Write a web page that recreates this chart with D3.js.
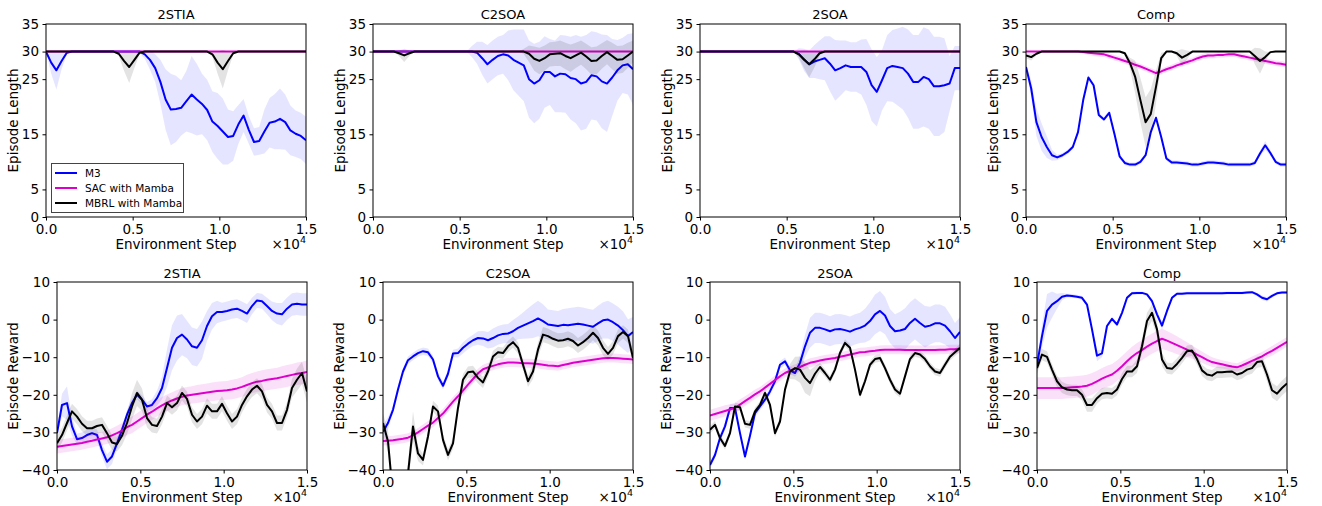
<!DOCTYPE html>
<html>
<head>
<meta charset="utf-8">
<script src="https://cdn.jsdelivr.net/npm/d3@7"></script>
<style>
  body { margin: 0; background: #fff; }
  svg { display: block; font-family: "DejaVu Sans", sans-serif; }
</style>
</head>
<body>
<div id="chart"></div>
<script>
// environment steps, in units of 1e4
var steps = [0.00,0.03,0.06,0.09,0.12,0.15,0.18,0.21,0.24,0.27,
             0.30,0.33,0.36,0.39,0.42,0.45,0.48,0.51,0.54,0.57,
             0.60,0.63,0.66,0.69,0.72,0.75,0.78,0.81,0.84,0.87,
             0.90,0.93,0.96,0.99,1.02,1.05,1.08,1.11,1.14,1.17,
             1.20,1.23,1.26,1.29,1.32,1.35,1.38,1.41,1.44,1.47,
             1.50];

var envNames = ["2STIA", "C2SOA", "2SOA", "Comp"];
var seriesNames = ["M3", "SAC with Mamba", "MBRL with Mamba"];
var xTicks = [0, 0.5, 1.0, 1.5];
var lenTicks = [0, 5, 15, 25, 30, 35];
var rewTicks = [-40, -30, -20, -10, 0, 10];

// ---------- Episode Length ----------
var len_2stia_m3 = [30,28,26.6,28.3,29.8,30,30,30,30,30,
  30,30,30,30,30,30,30,30,30,29.5,
  28.5,27,24.5,21.3,19.5,19.6,19.8,21,22.2,21.3,
  20.5,19.4,17.3,16.5,15.5,14.5,14.7,16.8,18.4,15.8,
  13.6,13.8,15.5,17.1,17.3,17.8,17.2,15.7,15.1,14.7,
  13.9];
var len_2stia_m3_sd = [0,2,3.5,1.5,0.3,0,0,0,0,0,
  0,0,0,0,0,0,0,0,0.3,0.8,
  1.8,2.5,4,5.5,6.5,6,5,5.5,7,6.5,
  5.5,5.5,5.5,6,6,5,4.5,3.5,3,2.5,
  2.5,2.5,4,4.5,5,5.5,5,4.5,4.2,4.2,
  4.3];
var len_2stia_sac = [30,30,30,30,30,30,30,30,30,30,
  30,30,30,30,30,30,30,30,30,30,
  30,30,30,30,30,30,30,30,30,30,
  30,30,30,30,30,30,30,30,30,30,
  30,30,30,30,30,30,30,30,30,30,
  30];
var len_2stia_sac_sd = [0,0,0,0,0,0,0,0,0,0,
  0,0,0,0,0,0,0,0,0,0,
  0,0,0,0,0,0,0,0,0,0,
  0,0,0,0,0,0,0,0,0,0,
  0,0,0,0,0,0,0,0,0,0,
  0];
var len_2stia_mbrl = [30,30,30,30,30,30,30,30,30,30,
  30,30,30,30,29.6,28.3,27.2,28.5,29.8,30,
  30,30,30,30,30,30,30,30,30,30,
  30,30,29.5,28,26.8,28.3,29.7,30,30,30,
  30,30,30,30,30,30,30,30,30,30,
  30];
var len_2stia_mbrl_sd = [0,0,0,0,0,0,0,0,0,0,
  0,0,0,0,0.4,1.8,2.9,1.5,0.2,0,
  0,0,0,0,0,0,0,0,0,0,
  0,0,0.5,2,3.5,1.7,0.3,0,0,0,
  0,0,0,0,0,0,0,0,0,0,
  0];

var len_c2soa_m3 = [30,30,30,30,30,30,30,30,30,30,
  30,30,30,30,30,30,30,30,30,30,
  29.8,28.8,27.7,28.5,29.2,29.5,29.3,28.5,28,27.5,
  25,24.2,24.8,26.3,26.3,25.5,26,25.9,25.2,25,
  24.2,24.5,25.7,25.5,24.6,24.2,25.3,26.6,27.5,27.7,
  26.8];
var len_c2soa_m3_sd = [0,0,0,0,0,0,0,0,0,0,
  0,0,0,0,0,0,0,0,0,1,
  2,3,3.5,3.5,3.5,3.5,4.5,5.5,6,6.5,
  7,7.2,7,6.5,6,6.5,7,7,7.5,8,
  8.5,8.5,8,8,8.5,8.8,7,5.5,5,5.5,
  6.5];
var len_c2soa_sac = [30,30,30,30,30,30,30,30,30,30,
  30,30,30,30,30,30,30,30,30,30,
  30,30,30,30,30,30,30,30,30,30,
  30,30,30,30,30,30,30,30,30,30,
  30,30,30,30,30,30,30,30,30,30,
  30];
var len_c2soa_sac_sd = [0,0,0,0,0,0,0,0,0,0,
  0,0,0,0,0,0,0,0,0,0,
  0,0,0,0,0,0,0,0,0,0,
  0,0,0,0,0,0,0,0,0,0,
  0,0,0,0,0,0,0,0,0,0,
  0];
var len_c2soa_mbrl = [30,30,30,30,30,29.7,29.3,29.7,30,30,
  30,30,30,30,30,30,30,30,30,30,
  30,30,30,30,30,30,30,30,30,30,
  29.6,28.7,28.3,28.8,29.5,29.6,29.7,29.2,28.8,29.3,
  29.8,29.1,28.3,28.4,29.2,29.9,29.2,28.5,28.6,29.3,
  30];
var len_c2soa_mbrl_sd = [0,0,0,0,0,0.5,1.2,0.5,0,0,
  0,0,0,0,0,0,0,0,0,0,
  0,0,0,0,0,0,0,0,0,0.5,
  1.5,2.2,2.4,2.3,2.2,2.2,2.3,2.4,2.5,2.3,
  2.2,2.3,2.5,2.5,2.3,2.2,2.4,2.5,2.5,2.3,
  2];

var len_2soa_m3 = [30,30,30,30,30,30,30,30,30,30,
  30,30,30,30,30,30,30,30,30,29.6,
  28.5,27.7,28.2,28.5,28.8,27.8,26.6,27,27.5,27.2,
  27.2,27.2,26.3,23.9,22.7,24.8,27,27.4,27.2,27,
  26,24.5,24.5,25.4,25,23.7,23.7,23.9,24.2,27,
  27];
var len_2soa_m3_sd = [0,0,0,0,0,0,0,0,0,0,
  0,0,0,0,0,0,0,0,0,1,
  2,2.5,3,3.5,4,5,5.5,5,4.5,4.5,
  4.5,5,6,6.5,6.3,5.5,6,6.5,7,7.5,
  8,8.5,8.5,9,9,9,9,8.5,5,4,
  4];
var len_2soa_sac = [30,30,30,30,30,30,30,30,30,30,
  30,30,30,30,30,30,30,30,30,30,
  30,30,30,30,30,30,30,30,30,30,
  30,30,30,30,30,30,30,30,30,30,
  30,30,30,30,30,30,30,30,30,30,
  30];
var len_2soa_sac_sd = [0,0,0,0,0,0,0,0,0,0,
  0,0,0,0,0,0,0,0,0,0,
  0,0,0,0,0,0,0,0,0,0,
  0,0,0,0,0,0,0,0,0,0,
  0,0,0,0,0,0,0,0,0,0,
  0];
var len_2soa_mbrl = [30,30,30,30,30,30,30,30,30,30,
  30,30,30,30,30,30,30,30,30,29.5,
  28.6,27.7,28.6,29.7,30,30,30,30,30,30,
  30,30,30,30,30,30,30,30,30,30,
  30,30,30,30,30,30,30,30,30,30,
  30];
var len_2soa_mbrl_sd = [0,0,0,0,0,0,0,0,0,0,
  0,0,0,0,0,0,0,0,0,0.6,
  1.6,2.4,1.5,0.4,0,0,0,0,0,0,
  0,0,0,0,0,0,0,0,0,0,
  0,0,0,0,0,0,0,0,0,0,
  0];

var len_comp_m3 = [27.2,23.3,17.2,14.5,12.7,11.2,10.8,11.2,11.8,12.7,
  15.4,21.2,25.3,23.9,18.5,17.7,18.9,15.1,11,9.8,
  9.5,9.5,10,11.2,15.4,18,14.5,10.6,9.9,9.9,
  9.8,9.7,9.5,9.5,9.7,9.9,9.9,9.8,9.7,9.5,
  9.5,9.5,9.5,9.5,9.8,11.5,13,11.6,10,9.5,
  9.5];
var len_comp_m3_sd = [0.5,1.5,2.5,2.5,2,1,0.5,0.4,0.4,0.4,
  0.4,0.4,0.4,0.4,0.4,0.4,0.4,0.4,0.4,0.4,
  0.4,0.4,0.4,0.4,0.4,0.4,0.4,0.4,0.4,0.4,
  0.4,0.4,0.4,0.4,0.4,0.4,0.4,0.4,0.4,0.4,
  0.4,0.4,0.4,0.4,0.4,0.5,0.8,0.5,0.4,0.4,
  0.4];
var len_comp_sac = [30,30,30,30,30,30,30,30,30,30,
  30,29.9,29.8,29.7,29.6,29.5,29.2,28.9,28.6,28.3,
  28,27.6,27.3,26.9,26.5,26.1,26.4,26.8,27.1,27.5,
  27.8,28.1,28.4,28.8,29.1,29.3,29.3,29.4,29.4,29.5,
  29.5,29.3,29.1,28.9,28.7,28.5,28.3,28.1,27.9,27.8,
  27.6];
var len_comp_sac_sd = [0,0,0,0,0,0,0,0,0,0,
  0.2,0.3,0.4,0.5,0.5,0.5,0.5,0.5,0.5,0.5,
  0.5,0.5,0.5,0.5,0.5,0.5,0.5,0.5,0.5,0.5,
  0.5,0.5,0.5,0.5,0.5,0.5,0.5,0.5,0.5,0.5,
  0.5,0.5,0.5,0.5,0.5,0.5,0.5,0.5,0.5,0.5,
  0.5];
var len_comp_mbrl = [29.3,29,29.6,30,30,30,30,30,30,30,
  30,30,30,30,30,30,30,30,30,29.7,
  27.9,25.4,21.2,17.2,18.7,23.6,28.8,30,30,29.7,
  28.9,29.4,30,30,30,30,30,30,30,30,
  30,30,30,30,29.2,28.3,29,29.9,30,30,
  30];
var len_comp_mbrl_sd = [0.5,0.6,0.3,0,0,0,0,0,0,0,
  0,0,0,0,0,0,0,0,0,0.3,
  1,3,4,4.5,4.5,3,1,0,0,0.5,
  1.5,0.8,0,0,0,0,0,0,0,0,
  0,0,0,0,1.5,2.3,1,0,0,0,
  0];

// ---------- Episode Reward ----------
var rew_2stia_m3 = [-30.2,-22.7,-22.2,-28.4,-31.8,-31.5,-30.7,-30.2,-30.7,-34.7,
  -37.8,-36.4,-32.9,-29.3,-25.3,-22.2,-20,-21.3,-23.1,-22.7,
  -20.9,-18.2,-12.9,-7.5,-4.9,-4,-5.3,-7.1,-7.5,-5.5,
  -1.7,0.9,2,2,2.3,2.7,2.9,2.3,1.6,3.6,
  5.1,4.9,3.6,2.3,1.6,1.4,2.9,4,4.2,4,
  4];
var rew_2stia_m3_sd = [1,3,4.5,2.5,1.5,1.5,1.5,1.5,1.5,1.8,
  2,2,1.5,1.2,1.2,1.2,1.2,1.2,1.2,1.5,
  2,3,5,6,6,5.5,5,5,5,5,
  4,3.5,3,2.5,2.5,2.5,2.5,2.5,2.5,2.2,
  2,2,2.2,2.5,2.8,3,3,3,3,3,
  3];
var rew_2stia_sac = [-33.8,-33.6,-33.4,-33.2,-33.0,-32.8,-32.5,-32.2,-31.9,-31.6,
  -31.3,-30.8,-30.2,-29.5,-28.6,-28,-27.1,-26.2,-25.3,-24.5,
  -23.6,-22.8,-22.1,-21.5,-21,-20.5,-20.2,-20,-19.8,-19.6,
  -19.4,-19.2,-19.0,-18.9,-18.8,-18.6,-18.3,-17.9,-17.4,-16.9,
  -16.5,-16.3,-16.0,-15.8,-15.6,-15.3,-15.0,-14.7,-14.4,-14.2,
  -13.9];
var rew_2stia_sac_sd = [1.8,1.8,1.8,1.8,1.8,1.8,1.8,1.8,1.8,1.8,
  1.8,1.9,2,2,2.1,2.2,2.2,2.2,2.2,2.2,
  2.2,2.2,2.2,2.2,2.3,2.3,2.3,2.3,2.4,2.4,
  2.4,2.5,2.5,2.5,2.5,2.6,2.6,2.6,2.7,2.7,
  2.7,2.8,2.8,2.8,2.8,2.9,2.9,2.9,3,3,
  3];
var rew_2stia_mbrl = [-32.9,-30.7,-27.5,-24.4,-25.8,-27.7,-28.9,-28.9,-28.3,-28,
  -30.2,-32.7,-33.1,-30.9,-27.5,-23.1,-19.5,-21.3,-26.2,-28,
  -28.3,-25.8,-22.2,-23.3,-22.2,-19.5,-21.1,-25.3,-27.1,-25.8,
  -22.9,-24.4,-24.4,-22.4,-24.9,-27.1,-25.8,-22.7,-20.4,-18.6,
  -17.6,-19.1,-22.7,-24.4,-27.5,-27.5,-24,-18.2,-16,-14.2,
  -19.1];
var rew_2stia_mbrl_sd = [2,2,2,2,2,2,2,2,2,2,
  2,2,2,2.5,3,3.5,3.5,3,2.5,2,
  2,2,2,2,2,2,2,2,2,2,
  2,2,2,2,2,2,2,2,2,2,
  2,2,2,2,2,2,2,2.5,3,3,
  3];

var rew_c2soa_m3 = [-29.8,-27.5,-24,-18.6,-13.8,-10.8,-9.8,-8.9,-8.4,-8.7,
  -10.6,-15.1,-17.6,-14.4,-9,-8.9,-7.5,-6.4,-5.5,-4.9,
  -5,-5.5,-4.9,-4.2,-3.8,-3.7,-3.1,-2.2,-1.6,-1,
  -0.4,0.3,-0.4,-1.3,-1.5,-1.7,-1.4,-1.5,-1.3,-1.1,
  -1.3,-1.6,-1.9,-1,-0.2,0,-0.7,-1.6,-2.8,-4.4,
  -3.3];
var rew_c2soa_m3_sd = [2,1.5,1,1,1,1,1,1,1,1,
  1,1,1,1,1,1.2,1.5,1.5,1.5,1.8,
  2,2.2,2.5,2.5,2.5,2.5,3,3,3.5,4,
  4.5,4.7,4.5,4,4,4,4.2,4.5,4.5,4.5,
  4.5,4.5,4.5,4.7,4.8,5,5,5,5,4.5,
  4];
var rew_c2soa_sac = [-32.3,-32.2,-32.1,-31.9,-31.7,-31.4,-30.8,-30.0,-29.1,-28.2,
  -27.4,-26.2,-25.0,-23.4,-21.8,-20.4,-18.9,-17.3,-15.8,-14.3,
  -13.2,-12.7,-12.3,-11.9,-11.6,-11.4,-11.4,-11.5,-11.6,-11.6,
  -11.7,-11.8,-12.0,-12.2,-12.3,-12.4,-12.1,-11.8,-11.5,-11.3,
  -11.1,-10.9,-10.7,-10.5,-10.3,-10.2,-10.2,-10.3,-10.4,-10.5,
  -10.6];
var rew_c2soa_sac_sd = [1.2,1.2,1.2,1.2,1.2,1.2,1.2,1.2,1.2,1.2,
  1.2,1.2,1.2,1.2,1.2,1.2,1.2,1.2,1.2,1.2,
  1.2,1.2,1.2,1.2,1.2,1.2,1.2,1.2,1.2,1.2,
  1.2,1.2,1.2,1.2,1.2,1.2,1.2,1.2,1.2,1.2,
  1.2,1.2,1.2,1.2,1.2,1.2,1.2,1.2,1.2,1.2,
  1.2];
var rew_c2soa_mbrl = [-27.5,-32.4,-47,-52,-50,-41,-28.4,-35.6,-37.3,-31.1,
  -23.1,-24.4,-32,-36,-32.9,-23.5,-16,-14,-13.8,-15.5,
  -16.7,-13.8,-9.8,-8.7,-8.9,-7.1,-6,-7.5,-12,-16.4,
  -13.8,-8,-4,-4.4,-5.1,-5.6,-5.5,-5.1,-5.7,-6.9,
  -6,-4.9,-3.5,-4.9,-7.5,-9.1,-7.5,-4.4,-3.3,-4.4,
  -10.2];
var rew_c2soa_mbrl_sd = [2.5,3,3,3,3,3,4,2,1.5,1.5,
  1.5,1.5,1.5,1.5,1.5,1.5,1.5,1.5,1.5,1.5,
  1.5,1.5,1.5,1.5,1.5,1.5,1.5,1.5,1.5,1.5,
  2,2,2,2,2,2,2,2,2,2,
  2,2,2,2,2,1.8,1.8,1.8,1.8,1.8,
  1.8];

var rew_2soa_m3 = [-38.7,-36,-31.5,-28.4,-23.5,-23.5,-30.2,-36.4,-30.9,-24.9,
  -23.1,-21.3,-19.1,-16.4,-12,-11.1,-13.5,-14.2,-11.5,-7.1,
  -3.5,-2.2,-2.2,-2.6,-3.1,-2.6,-2.5,-2.8,-3.2,-2.6,
  -2.2,-1.6,-0.4,1.4,2.3,1.1,-1.7,-3.1,-2.9,-2.5,
  -0.9,0.2,-0.9,-1.9,-1.6,-1,-1,-1.6,-3.1,-4.9,
  -3.3];
var rew_2soa_m3_sd = [1,1,1,1,1,1,1,1,1,1,
  1,1,1,1,1,1,1,1,2,3,
  4,4,4,4,4,4,4,4,4,4,
  4,4.5,5,5.3,5.3,5,4.5,4.5,5,5.5,
  5.5,5.5,5.5,5.5,5,5,5,5,4.5,4,
  4];
var rew_2soa_sac = [-25.5,-25.1,-24.7,-24.3,-23.9,-23.5,-22.6,-21.7,-20.8,-19.9,
  -19.1,-18.1,-17.1,-16.1,-15.1,-14.2,-13.6,-13.1,-12.6,-12.0,
  -11.5,-11.2,-10.9,-10.6,-10.4,-10.2,-9.9,-9.6,-9.3,-9.0,
  -8.7,-8.6,-8.4,-8.3,-8.1,-8.0,-8.0,-8.0,-8.0,-8.1,
  -8.1,-8.1,-8.1,-8.1,-8.1,-8.1,-8.0,-8.0,-7.9,-7.9,
  -7.8];
var rew_2soa_sac_sd = [1.5,1.5,1.5,1.5,1.4,1.4,1.4,1.3,1.3,1.3,
  1.2,1.2,1.2,1.2,1.2,1.2,1.2,1.2,1.2,1.2,
  1.2,1.2,1.2,1.2,1.2,1.2,1.2,1.2,1.2,1.2,
  1.2,1.2,1.2,1.2,1.2,1.2,1.2,1.2,1.2,1.2,
  1.2,1.2,1.2,1.2,1.2,1.2,1.2,1.2,1.2,1.2,
  1.2];
var rew_2soa_mbrl = [-29.3,-28,-31.5,-33.6,-30.2,-23.1,-23.3,-27.7,-28,-24.4,
  -22.7,-19.5,-22.7,-30.2,-27.1,-18.6,-13.8,-12.9,-13.3,-15.5,
  -16.9,-14.4,-12.6,-14.2,-16,-13.3,-8.9,-6.2,-7.5,-13.3,
  -20,-16.4,-12,-10.5,-10.2,-12.9,-16,-18.6,-19.7,-15.1,
  -10.5,-8.9,-9.3,-10.5,-12.4,-13.8,-14.2,-12,-9.9,-8.7,
  -7.5];
var rew_2soa_mbrl_sd = [1,1,1,1,1,1,1,1,1,1,
  1,1,1,1,1,1,2,3,3.5,4,
  3.5,2,1.2,1,1,1,1,1,1,1,
  1,1,1,1,1,1,1,1,1,1,
  1,1,1,1,1,1,1,1,1,1,
  1];

var rew_comp_m3 = [-12,-4.4,2.3,4,4.9,6.1,6.4,6.3,6.1,5.8,
  4,-2.6,-9.6,-9,-1.7,0.2,-1.3,1.8,5.8,7,
  7.1,7.1,6.7,4.9,1.4,-1.6,2.3,5.8,6.9,6.9,
  7,7,7,7,7,7,7,7,7.1,7.1,
  7.1,7.1,7.2,7.3,6.7,5.8,5.4,6.3,7,7.2,
  7.2];
var rew_comp_m3_sd = [1,3,4.5,3.5,2,1,0.5,0.5,0.5,0.5,
  0.5,0.8,1.5,1,0.5,0.5,0.5,0.5,0.5,0.4,
  0.4,0.4,0.4,0.5,0.8,1,0.8,0.4,0.4,0.4,
  0.4,0.4,0.4,0.4,0.4,0.4,0.4,0.4,0.4,0.4,
  0.4,0.4,0.4,0.4,0.5,0.6,0.6,0.5,0.4,0.4,
  0.4];
var rew_comp_sac = [-18.2,-18.2,-18.2,-18.2,-18.2,-18.2,-18.1,-18.0,-17.9,-17.8,
  -17.6,-17.1,-16.4,-15.7,-15.1,-14.6,-13.6,-12.4,-11.1,-9.9,
  -8.9,-8.1,-7.2,-6.4,-5.7,-5.1,-5.6,-6.2,-6.8,-7.4,
  -8.0,-8.6,-9.3,-10.0,-10.7,-11.3,-11.6,-11.9,-12.2,-12.5,
  -12.7,-12.2,-11.6,-11.0,-10.4,-9.8,-9.0,-8.3,-7.5,-6.7,
  -5.9];
var rew_comp_sac_sd = [2.9,2.9,2.9,2.9,2.9,2.9,2.9,2.9,2.9,2.9,
  2.9,2.9,2.8,2.8,2.8,2.8,2.7,2.7,2.7,2.7,
  2.7,2.7,2.7,2.7,2.7,2.7,2.6,2.5,2.4,2.2,
  2,1.8,1.6,1.5,1.4,1.3,1.2,1.1,1.1,1.1,
  1.1,1.1,1.1,1.2,1.2,1.2,1.2,1.3,1.3,1.3,
  1.3];
var rew_comp_mbrl = [-12.9,-9.3,-9.9,-13.3,-16.4,-18,-18.6,-18.8,-18.8,-20,
  -22.7,-22.7,-20.9,-19.7,-19.5,-19.7,-18.6,-15.8,-13.8,-13.8,
  -12.4,-7.1,-0.4,1.8,-2.6,-10.6,-12.9,-13.1,-11.8,-10.2,
  -8.4,-8.2,-10.5,-13.5,-14.6,-14.9,-14,-14,-13.9,-13.8,
  -14.6,-14.2,-13.3,-12.9,-11.3,-11.1,-14.6,-18.8,-19.7,-18.2,
  -17];
var rew_comp_mbrl_sd = [1.5,1.5,1.5,1.5,1.5,1.5,1.5,1.5,1.5,1.5,
  1.8,1.8,1.5,1.5,1.5,1.5,1.5,1.5,1.5,1.5,
  1.8,2,2.2,2.2,2,1.8,1.5,1.5,1.5,1.5,
  1.5,1.5,1.5,1.5,1.5,1.5,1.5,1.5,1.5,1.5,
  1.5,1.5,1.5,1.5,1.5,1.5,1.8,2,2,2,
  2];

// colours (line, band)
var lineColors = ["#0000ff", "#dd00cc", "#000000"];
var bandColors = ["rgba(0,0,255,0.10)", "rgba(221,0,204,0.12)", "rgba(0,0,0,0.11)"];

var panels = [
  [
    [[len_2stia_m3, len_2stia_m3_sd], [len_2stia_sac, len_2stia_sac_sd], [len_2stia_mbrl, len_2stia_mbrl_sd]],
    [[len_c2soa_m3, len_c2soa_m3_sd], [len_c2soa_sac, len_c2soa_sac_sd], [len_c2soa_mbrl, len_c2soa_mbrl_sd]],
    [[len_2soa_m3, len_2soa_m3_sd], [len_2soa_sac, len_2soa_sac_sd], [len_2soa_mbrl, len_2soa_mbrl_sd]],
    [[len_comp_m3, len_comp_m3_sd], [len_comp_sac, len_comp_sac_sd], [len_comp_mbrl, len_comp_mbrl_sd]]
  ],
  [
    [[rew_2stia_m3, rew_2stia_m3_sd], [rew_2stia_sac, rew_2stia_sac_sd], [rew_2stia_mbrl, rew_2stia_mbrl_sd]],
    [[rew_c2soa_m3, rew_c2soa_m3_sd], [rew_c2soa_sac, rew_c2soa_sac_sd], [rew_c2soa_mbrl, rew_c2soa_mbrl_sd]],
    [[rew_2soa_m3, rew_2soa_m3_sd], [rew_2soa_sac, rew_2soa_sac_sd], [rew_2soa_mbrl, rew_2soa_mbrl_sd]],
    [[rew_comp_m3, rew_comp_m3_sd], [rew_comp_sac, rew_comp_sac_sd], [rew_comp_mbrl, rew_comp_mbrl_sd]]
  ]
];

// layout of the two rows of axes
var rows = [
  {top: 24, bottom: 217, domain: [0, 35], ticks: lenTicks, label: "Episode Length",
   cols: [[46, 306], [373, 633], [700, 960], [1026, 1286]], labelX: 33, titleY: 19},
  {top: 282, bottom: 470, domain: [-40, 10], ticks: rewTicks, label: "Episode Reward",
   cols: [[57, 307], [383, 633], [710, 960], [1037, 1287]], labelX: 44, titleY: 278}
];

var fontSize = 13.5;

var svg = d3.select("#chart").append("svg")
    .attr("width", 1322)
    .attr("height", 506);

var defs = svg.append("defs");

function minusFmt(d) {
    return d < 0 ? "\u2212" + Math.abs(d) : String(d);
}

rows.forEach(function (row, r) {
    row.cols.forEach(function (cx, c) {
        var x = d3.scaleLinear().domain([0, 1.5]).range(cx),
            y = d3.scaleLinear().domain(row.domain).range([row.bottom, row.top]);

        var clipId = "clip-" + r + "-" + c;
        defs.append("clipPath").attr("id", clipId)
            .append("rect")
            .attr("x", cx[0]).attr("y", row.top)
            .attr("width", cx[1] - cx[0]).attr("height", row.bottom - row.top);

        var g = svg.append("g");
        var plot = g.append("g").attr("clip-path", "url(#" + clipId + ")");

        panels[r][c].forEach(function (s, k) {
            var mean = s[0], sd = s[1];
            var pts = steps.map(function (t, i) { return {x: t, m: mean[i], s: sd[i]}; });

            var area = d3.area()
                .x(function (d) { return x(d.x); })
                .y0(function (d) { return y(d.m - d.s); })
                .y1(function (d) { return y(d.m + d.s); });

            var line = d3.line()
                .x(function (d) { return x(d.x); })
                .y(function (d) { return y(d.m); });

            plot.append("path")
                .datum(pts)
                .attr("d", area)
                .attr("fill", bandColors[k])
                .attr("stroke", "none");

            plot.append("path")
                .datum(pts)
                .attr("d", line)
                .attr("fill", "none")
                .attr("stroke", lineColors[k])
                .attr("stroke-width", 2)
                .attr("stroke-linejoin", "round");
        });

        // axes
        var xAxis = d3.axisBottom(x)
            .tickValues(xTicks)
            .tickFormat(d3.format(".1f"))
            .tickSize(3.5)
            .tickSizeOuter(0)
            .tickPadding(3.5);
        var yAxis = d3.axisLeft(y)
            .tickValues(row.ticks)
            .tickFormat(minusFmt)
            .tickSize(3.5)
            .tickSizeOuter(0)
            .tickPadding(3.5);

        var gx = g.append("g")
            .attr("transform", "translate(0," + row.bottom + ")")
            .call(xAxis);
        var gy = g.append("g")
            .attr("transform", "translate(" + cx[0] + ",0)")
            .call(yAxis);

        [gx, gy].forEach(function (ax) {
            ax.select(".domain").remove();
            ax.selectAll("line").attr("stroke", "#000").attr("stroke-width", 1);
            ax.selectAll("text")
                .attr("fill", "#000")
                .style("font-size", fontSize + "px")
                .style("font-family", "DejaVu Sans, sans-serif");
        });

        // frame
        g.append("rect")
            .attr("x", cx[0]).attr("y", row.top)
            .attr("width", cx[1] - cx[0]).attr("height", row.bottom - row.top)
            .attr("fill", "none")
            .attr("stroke", "#000")
            .attr("stroke-width", 1);

        // title
        g.append("text")
            .attr("x", (cx[0] + cx[1]) / 2)
            .attr("y", row.titleY)
            .attr("text-anchor", "middle")
            .style("font-size", "13px")
            .text(envNames[c]);

        // x label
        g.append("text")
            .attr("x", (cx[0] + cx[1]) / 2)
            .attr("y", row.bottom + 32)
            .attr("text-anchor", "middle")
            .style("font-size", fontSize + "px")
            .text("Environment Step");

        // offset text  x10^4
        var off = g.append("text")
            .attr("x", cx[1])
            .attr("y", row.bottom + 32)
            .attr("text-anchor", "end")
            .style("font-size", fontSize + "px");
        off.append("tspan").text("\u00d710");
        off.append("tspan").attr("dy", -6).style("font-size", "9.5px").text("4");

        // y label
        g.append("text")
            .attr("transform", "translate(" + (cx[0] - row.labelX) + "," + ((row.top + row.bottom) / 2) + ") rotate(-90)")
            .attr("text-anchor", "middle")
            .attr("dy", "0.35em")
            .style("font-size", fontSize + "px")
            .text(row.label);
    });
});

// legend in the first panel
var legend = svg.append("g").attr("transform", "translate(51,163)");
legend.append("rect")
    .attr("x", 0.5).attr("y", 0.5)
    .attr("width", 132).attr("height", 49)
    .attr("fill", "#fff")
    .attr("stroke", "#444")
    .attr("stroke-width", 1);
seriesNames.forEach(function (name, k) {
    var ly = 10 + k * 15;
    legend.append("line")
        .attr("x1", 4).attr("x2", 26)
        .attr("y1", ly).attr("y2", ly)
        .attr("stroke", lineColors[k])
        .attr("stroke-width", 2);
    legend.append("text")
        .attr("x", 34).attr("y", ly)
        .attr("dy", "0.35em")
        .style("font-size", "10.5px")
        .text(name);
});
</script>
</body>
</html>
